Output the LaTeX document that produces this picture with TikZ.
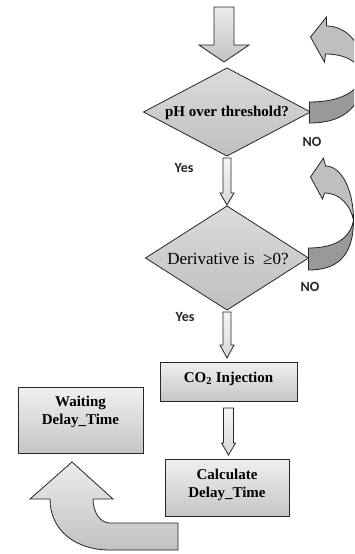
\documentclass[tikz,border=0pt]{standalone}
\usepackage{fontspec}
\setmainfont{Liberation Serif}
\newfontfamily\labfont{Carlito}
\usetikzlibrary{shapes.geometric,calc,shadows}
\tikzset{
  decision/.style={diamond, draw=black!85, line width=0.8pt, top color=gray!28, bottom color=gray!50,
    inner sep=0pt, outer sep=0pt},
  procbox/.style={rectangle, draw=black!85, line width=1pt, top color=gray!12, bottom color=gray!45,
    inner sep=0pt, outer sep=0pt, drop shadow={shadow xshift=1pt, shadow yshift=-1.2pt, opacity=0.35}},
  boxtext/.style={align=center, font=\fontsize{15}{18}\selectfont\bfseries, inner sep=0pt},
  arrowbody/.style={draw=black!85, line width=0.8pt, top color=gray!8, bottom color=gray!30},
  bigarrow/.style={draw=black!85, line width=0.8pt, top color=gray!15, bottom color=gray!48},
  loopup/.style={draw=black!85, line width=0.8pt, fill=gray!50},
  looplow/.style={draw=black!85, line width=0.8pt, fill=gray!80},
  lab/.style={font=\labfont\bfseries\fontsize{14}{16}\selectfont, text=black!85, inner sep=0pt}
}
\newcommand\blockarrow[6][arrowbody]{%
  \path[#1] let \p1=(#2), \p2=(#3) in
   ({\x1-#4},\y1) -- ({\x1-#4},{\y2+#6}) -- ({\x1-#5},{\y2+#6}) -- (\x1,\y2)
   -- ({\x1+#5},{\y2+#6}) -- ({\x1+#4},{\y2+#6}) -- ({\x1+#4},\y1) -- cycle;}
\begin{document}
\begin{tikzpicture}[x=1pt,y=-1pt]
\useasboundingbox (0,0) rectangle (354,554);
\clip (0,0) rectangle (354,554);
\fill[white] (0,0) rectangle (354,554);

% decisions
\node[decision, minimum width=167pt, minimum height=88pt] (d1) at (227,112) {};
\node[boxtext] (d1t) at (227,113) {pH over threshold?};
\node[decision, minimum width=163pt, minimum height=104pt] (d2) at (227,258) {};
\node[align=center, font=\fontsize{17}{20}\selectfont, inner sep=0pt] (d2t) at (228,259) {Derivative is\ \ ≥0?};

% process boxes
\node[procbox, minimum width=137pt, minimum height=39pt] (co2) at (228.5,381.5) {};
\node[boxtext] (co2t) at (228.5,379) {CO\textsubscript{2} Injection};
\node[procbox, minimum width=124pt, minimum height=57pt] (calc) at (227,487.5) {};
\node[boxtext] (calct) at (227,484.5) {Calculate\\Delay\_Time};
\node[procbox, minimum width=125pt, minimum height=66pt] (wait) at (80.5,420) {};
\node[boxtext] (waitt) at (80.5,411.5) {Waiting\\Delay\_Time};

% straight block arrows
\coordinate (start) at (224,7);
\coordinate (t0) at ($(d1.north)+(0,-6)$);
\blockarrow[bigarrow]{start}{t0}{10pt}{25pt}{17pt}
\coordinate (s1) at ($(d1.south)+(0,2)$);
\coordinate (t1) at ($(d2.north)+(0,-1)$);
\blockarrow{s1}{t1}{4pt}{7pt}{12pt}
\coordinate (s2) at ($(d2.south)+(0,2)$);
\coordinate (t2) at ($(co2.north)+(0,-4)$);
\blockarrow{s2}{t2}{4pt}{7pt}{13pt}
\coordinate (s3) at ($(co2.south)+(0,7)$);
\coordinate (t3) at ($(calc.north)+(0,-4)$);
\blockarrow{s3}{t3}{5pt}{7pt}{12pt}

% loop arrows (NO)
\begin{scope}[shift={(d1.east)}]
  \path[looplow] (-1,11) .. controls (28,11) and (50,0) .. (54,-36)
     .. controls (46,-20) and (30,-10) .. (-1,-10) -- cycle;
  \path[loopup] (54,-36) .. controls (54,-68) and (36,-86) .. (16,-86) -- (16,-95) -- (0,-75)
     -- (14,-50) -- (15,-58) .. controls (32,-58) and (48,-52) .. (54,-36) -- cycle;
\end{scope}
\begin{scope}[shift={(d2.east)}]
  \path[looplow] (0,12) .. controls (27,12) and (45,0) .. (45,-38)
     .. controls (42,-20) and (27,-10) .. (0,-10) -- cycle;
  \path[loopup] (45,-38) .. controls (45,-68) and (33,-92) .. (17,-92) -- (15,-100) -- (2,-81)
     -- (14,-59) -- (16,-65) .. controls (32,-65) and (42,-52) .. (45,-38) -- cycle;
\end{scope}

% big curved arrow from Calculate to Waiting
\path[bigarrow] (178,523) -- (178,550) -- (110,550) .. controls (75,550) and (50,530) .. (50,499)
   -- (30,499) -- (72,462) -- (113,499) -- (93,499) .. controls (93,512) and (100,523) .. (110,523) -- cycle;

% labels
\node[lab] (yes1) at (184,168) {Yes};
\node[lab] (no1) at (312,142) {NO};
\node[lab] (yes2) at (185,317) {Yes};
\node[lab] (no2) at (310,287) {NO};
\end{tikzpicture}
\end{document}
